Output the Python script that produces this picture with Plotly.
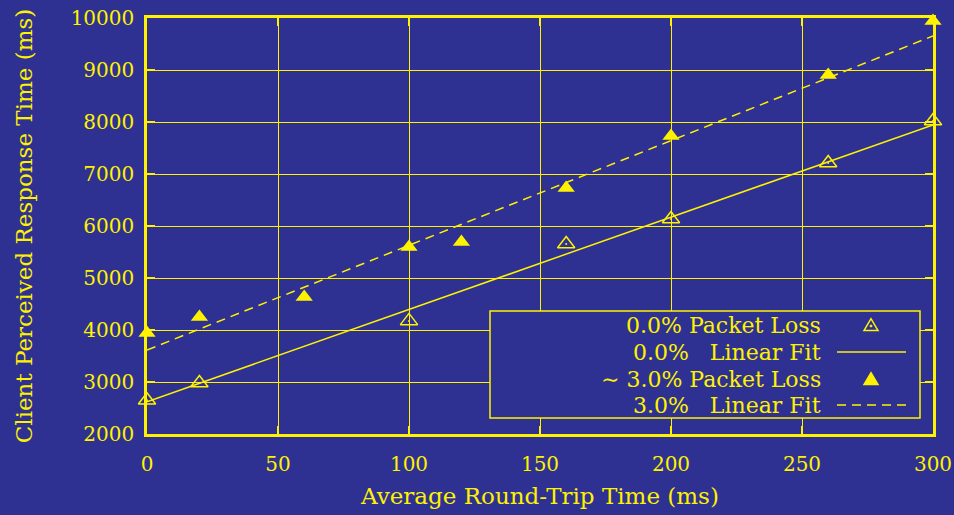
import plotly.graph_objects as go

BG = "rgb(46,49,146)"
YEL = "rgb(255,242,0)"
FONT = "DejaVu Serif"

# data
rtt_0 = [0, 20, 100, 160, 200, 260, 300]
resp_0 = [2650, 2980, 4175, 5655, 6135, 7210, 8020]
rtt_3 = [0, 20, 60, 100, 120, 160, 200, 260, 300]
resp_3 = [3940, 4250, 4635, 5595, 5690, 6730, 7730, 8905, 9940]
fit_x = [0, 300]
fit_0 = [2620, 7945]
fit_3 = [3615, 9655]
x_ticks = [0, 50, 100, 150, 200, 250, 300]
y_ticks = [2000, 3000, 4000, 5000, 6000, 7000, 8000, 9000, 10000]
legend_labels = ["0.0% Packet Loss", "0.0%   Linear Fit", "~ 3.0% Packet Loss", "3.0%   Linear Fit"]

DASH = "9px,6px"

fig = go.Figure()
fig.add_trace(go.Scatter(x=fit_x, y=fit_0, mode="lines", line=dict(color=YEL, width=1.5), showlegend=False))
fig.add_trace(go.Scatter(x=fit_x, y=fit_3, mode="lines", line=dict(color=YEL, width=1.5, dash=DASH), showlegend=False))
fig.add_trace(go.Scatter(x=rtt_0, y=resp_0, mode="markers", cliponaxis=False,
                         marker=dict(symbol="triangle-up-open", size=15, color=YEL, line=dict(width=1.5, color=YEL)), showlegend=False))
fig.add_trace(go.Scatter(x=rtt_0, y=resp_0, mode="markers", cliponaxis=False,
                         marker=dict(symbol="circle", size=2, color=YEL), showlegend=False))
fig.add_trace(go.Scatter(x=rtt_3, y=resp_3, mode="markers", cliponaxis=False,
                         marker=dict(symbol="triangle-up", size=15, color=YEL, line=dict(width=0)), showlegend=False))

axis_common = dict(showline=True, linecolor=YEL, linewidth=2.5, mirror="ticks", ticks="inside",
                   ticklen=8, tickcolor=YEL, tickwidth=2, showgrid=True, gridcolor=YEL, gridwidth=1,
                   zeroline=False, tickfont=dict(family=FONT, size=20, color=YEL))
fig.update_xaxes(range=[0, 300], tickvals=x_ticks, ticktext=[str(v) for v in x_ticks], ticklabelstandoff=10,
                 title=dict(text="Average Round-Trip Time (ms)", font=dict(family=FONT, size=23, color=YEL), standoff=14),
                 **axis_common)
fig.update_yaxes(range=[2000, 10000], tickvals=y_ticks, ticktext=[str(v) for v in y_ticks], ticklabelstandoff=6,
                 title=dict(text="Client Perceived Response Time (ms)", font=dict(family=FONT, size=23, color=YEL), standoff=32),
                 **axis_common)

# custom legend (gnuplot style: text right-aligned, key on the right)
W, H = 954, 515
L, R, T, B = 147, 21, 18, 81
pw, ph = W - L - R, H - T - B
def px(x):
    return (x - L) / pw
def py(y):
    return 1 - (y - T) / ph

shapes = [dict(type="rect", xref="paper", yref="paper", x0=px(490), x1=px(920), y0=py(418), y1=py(311),
               line=dict(color=YEL, width=1.5), fillcolor=BG, layer="above")]
annotations = []
rows = [325, 352, 379, 405]
for lab, yy in zip(legend_labels, rows):
    txt = lab.replace("~", "∼")
    annotations.append(dict(xref="paper", yref="paper", x=px(823), y=py(yy), xanchor="right", yanchor="middle",
                            text=txt.replace(" ", "&nbsp;"), showarrow=False, font=dict(family=FONT, size=22, color=YEL)))
# key samples
cx = 871
def tri(cx, cy, s, fill):
    x0, x1, xm = px(cx - s), px(cx + s), px(cx)
    yb, yt = py(cy + s * 0.8), py(cy - s * 0.9)
    return dict(type="path", xref="paper", yref="paper", path=f"M {x0} {yb} L {x1} {yb} L {xm} {yt} Z",
                line=dict(color=YEL, width=1.5), fillcolor=YEL if fill else "rgba(0,0,0,0)", layer="above")
shapes.append(tri(cx, rows[0], 7, False))
shapes.append(dict(type="circle", xref="paper", yref="paper", x0=px(cx - 1), x1=px(cx + 1), y0=py(rows[0] + 2), y1=py(rows[0]),
                   line=dict(color=YEL, width=1), fillcolor=YEL, layer="above"))
shapes.append(dict(type="line", xref="paper", yref="paper", x0=px(837), x1=px(906), y0=py(rows[1]), y1=py(rows[1]),
                   line=dict(color=YEL, width=1.5), layer="above"))
shapes.append(tri(cx, rows[2], 7, True))
shapes.append(dict(type="line", xref="paper", yref="paper", x0=px(837), x1=px(906), y0=py(rows[3]), y1=py(rows[3]),
                   line=dict(color=YEL, width=1.5, dash=DASH), layer="above"))

fig.update_layout(width=W, height=H, margin=dict(l=L, r=R, t=T, b=B, autoexpand=False),
                  paper_bgcolor=BG, plot_bgcolor=BG, shapes=shapes, annotations=annotations,
                  font=dict(family=FONT, color=YEL), showlegend=False)
fig.write_html("out.html", config={"displayModeBar": False},
               post_script="document.body.style.margin='0';document.body.style.padding='0';document.body.style.background='rgb(46,49,146)';document.body.style.overflow='hidden';")
